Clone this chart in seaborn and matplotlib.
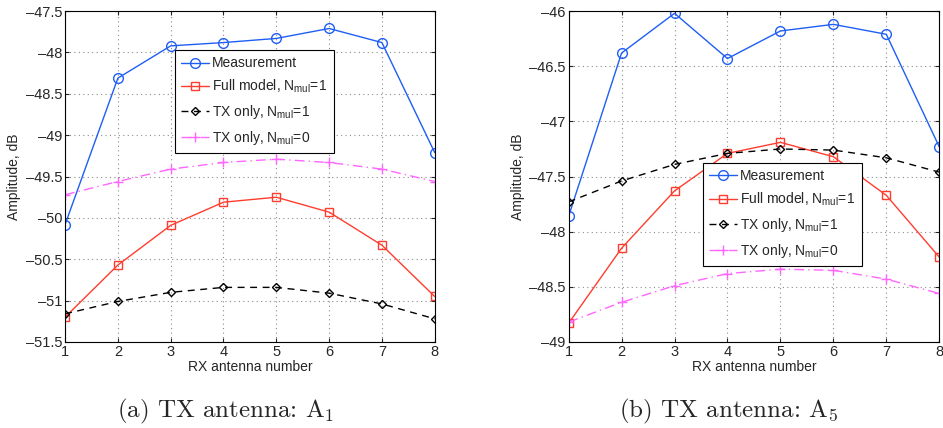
import numpy as np
import pandas as pd
import seaborn as sns
import matplotlib.pyplot as plt

rx = [1, 2, 3, 4, 5, 6, 7, 8]

# panel (a): TX antenna A1
a_meas = [-50.08, -48.31, -47.92, -47.88, -47.83, -47.71, -47.88, -49.21]
a_full = [-51.20, -50.57, -50.09, -49.81, -49.75, -49.93, -50.33, -50.95]
a_tx1 = [-51.16, -51.01, -50.90, -50.84, -50.84, -50.91, -51.04, -51.22]
a_tx0 = [-49.72, -49.56, -49.41, -49.33, -49.29, -49.33, -49.41, -49.56]

# panel (b): TX antenna A5
b_meas = [-47.86, -46.38, -46.02, -46.43, -46.18, -46.12, -46.21, -47.23]
b_full = [-48.83, -48.15, -47.63, -47.29, -47.19, -47.32, -47.67, -48.23]
b_tx1 = [-47.73, -47.54, -47.39, -47.29, -47.25, -47.26, -47.33, -47.46]
b_tx0 = [-48.82, -48.64, -48.49, -48.38, -48.34, -48.35, -48.43, -48.56]

labels = ['Measurement',
          r'Full model, N$_{\mathregular{mul}}$=1',
          r'TX only, N$_{\mathregular{mul}}$=1',
          r'TX only, N$_{\mathregular{mul}}$=0']

a_yticks = [-51.5, -51, -50.5, -50, -49.5, -49, -48.5, -48, -47.5]
b_yticks = [-49, -48.5, -48, -47.5, -47, -46.5, -46]

sns.set_style('ticks')
plt.rcParams['font.family'] = ['Liberation Sans', 'DejaVu Sans']
plt.rcParams['mathtext.fontset'] = 'custom'
plt.rcParams['mathtext.rm'] = 'Liberation Sans'

styles = [
    dict(color='#1f5ef5', marker='o', linestyle='-', markersize=7, mfc='none', mec='#1f5ef5'),
    dict(color='#ff3d2e', marker='s', linestyle='-', markersize=6, mfc='none', mec='#ff3d2e'),
    dict(color='black', marker='D', linestyle=(0, (5, 4)), markersize=4.5, mfc='none', mec='black'),
    dict(color='#ff66ff', marker='+', linestyle=(0, (7, 3, 1, 3)), markersize=7, mfc='none', mec='#ff66ff'),
]

fig = plt.figure(figsize=(9.43, 4.28), dpi=100)
ax_a = fig.add_axes([0.069, 0.201, 0.392, 0.773])
ax_b = fig.add_axes([0.603, 0.201, 0.393, 0.773])


def draw(ax, series, yticks, legend_bbox):
    for vals, lab, st in zip(series, labels, styles):
        df = pd.DataFrame({'rx': rx, 'amp': vals})
        sns.lineplot(data=df, x='rx', y='amp', ax=ax, label=lab,
                     linewidth=1.0, markeredgewidth=1.0, **st)
    ax.set_xlim(1, 8)
    ax.set_ylim(yticks[0], yticks[-1])
    ax.set_xticks(rx)
    ax.set_yticks(yticks)
    ax.set_yticklabels([('%g' % t).replace('-', '\u2013') for t in yticks])
    ax.grid(True, color='#8c8c8c', linestyle=(0, (1, 3)), linewidth=0.8)
    ax.tick_params(direction='in', length=3, labelsize=10.5, top=True, right=True, pad=2)
    for s in ax.spines.values():
        s.set_linewidth(0.8)
        s.set_color('black')
    ax.set_xlabel('RX antenna number', fontsize=10, labelpad=1)
    ax.set_ylabel('Amplitude, dB', fontsize=10, labelpad=3)
    leg = ax.legend(loc='upper left', bbox_to_anchor=legend_bbox, fontsize=10,
                    frameon=True, fancybox=False, handlelength=2.0,
                    labelspacing=0.55, borderpad=0.45, handletextpad=0.25,
                    borderaxespad=0)
    leg.get_frame().set_edgecolor('black')
    leg.get_frame().set_linewidth(0.8)
    leg.get_frame().set_alpha(1)


draw(ax_a, [a_meas, a_full, a_tx1, a_tx0], a_yticks, (0.297, 0.882))
draw(ax_b, [b_meas, b_full, b_tx1, b_tx0], b_yticks, (0.362, 0.541))

fig.text(0.239, 0.025, r'(a) TX antenna: A$_1$', ha='center', fontsize=18,
         family=['cmr10', 'DejaVu Serif'], math_fontfamily='cm')
fig.text(0.773, 0.025, r'(b) TX antenna: A$_5$', ha='center', fontsize=18,
         family=['cmr10', 'DejaVu Serif'], math_fontfamily='cm')

fig.savefig('out.png', dpi=100)
